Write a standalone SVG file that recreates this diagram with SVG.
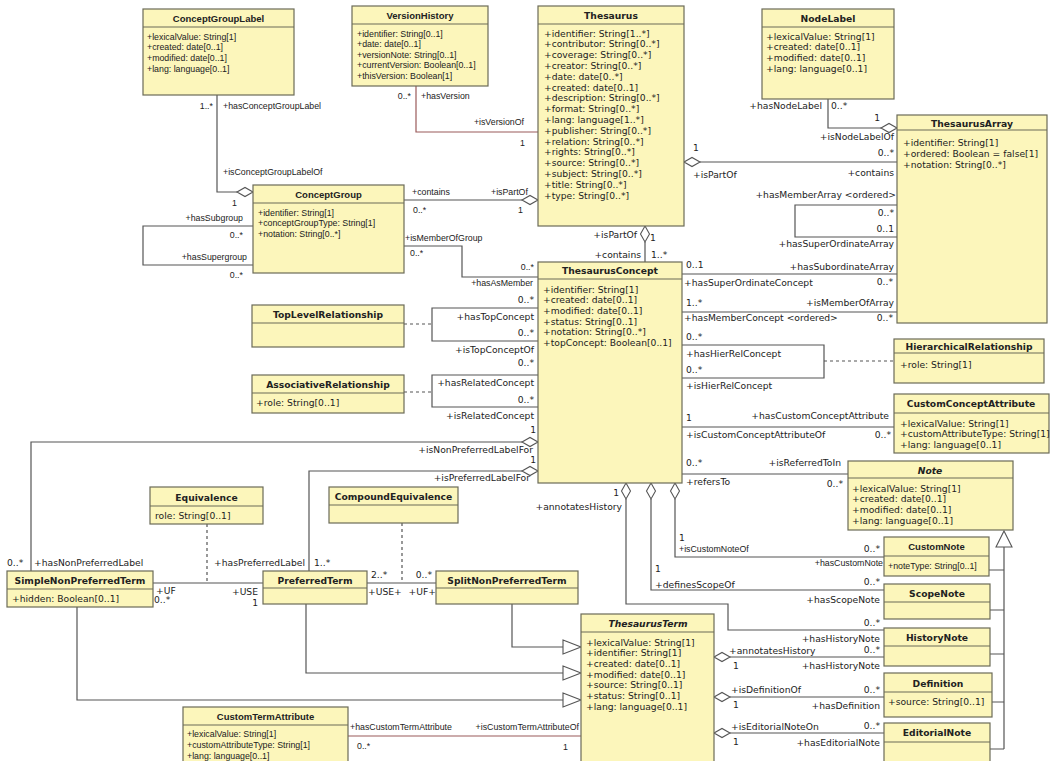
<svg xmlns="http://www.w3.org/2000/svg" width="1063" height="761" viewBox="0 0 1063 761">
<style>
.bg{fill:#ffffff}
.box{fill:#fcf6bb;stroke:#6b6b58;stroke-width:1.2}
.hl{stroke:#6b6b58;stroke-width:1.2}
.ln{fill:none;stroke:#555;stroke-width:1.2}
.br{stroke:#9a5a5a}
.dash{stroke-dasharray:3,3}
.dia{fill:#fff;stroke:#555;stroke-width:1.1}
.v{font-family:"DejaVu Sans",Verdana,sans-serif;font-size:9.2px;fill:#222}
.vb{font-family:"DejaVu Sans",Verdana,sans-serif;font-size:9.2px;font-weight:bold;fill:#222}
.t{font-family:"Liberation Sans",Arial,sans-serif;font-size:8.8px;fill:#222}
.tb{font-family:"Liberation Sans",Arial,sans-serif;font-size:9.5px;font-weight:bold;fill:#222}
.e{text-anchor:end}
.m{text-anchor:middle}
.i{font-style:italic}
</style>
<rect class="bg" x="0" y="0" width="1063" height="761"/>

<g id="connectors">
  <!-- ConceptGroupLabel - ConceptGroup -->
  <path class="ln" d="M217,95 V192 H237"/>
  <polygon class="dia" points="237,192 245,187.5 253,192 245,196.5"/>
  <text class="t e" x="213" y="109">1..*</text>
  <text class="t" x="223" y="109">+hasConceptGroupLabel</text>
  <text class="t" x="223" y="175">+isConceptGroupLabelOf</text>
  <text class="t" x="232" y="206">1</text>
  <!-- ConceptGroup self loop -->
  <path class="ln" d="M253,226 H143 V265 H253"/>
  <text class="t e" x="243" y="221">+hasSubgroup</text>
  <text class="t e" x="243" y="238">0..*</text>
  <text class="t e" x="247" y="260">+hasSupergroup</text>
  <text class="t e" x="243" y="278">0..*</text>
  <!-- VersionHistory - Thesaurus -->
  <path class="ln br" d="M416,86 V132 H538"/>
  <text class="t e" x="411" y="99">0..*</text>
  <text class="t" x="421" y="99">+hasVersion</text>
  <text class="t e" x="524" y="125">+isVersionOf</text>
  <text class="t" x="520" y="146">1</text>
  <!-- ConceptGroup - Thesaurus -->
  <path class="ln" d="M404,200 H522"/>
  <polygon class="dia" points="522,200 530,195.5 538,200 530,204.5"/>
  <text class="t" x="412" y="195">+contains</text>
  <text class="t" x="491" y="195">+isPartOf</text>
  <text class="t" x="413" y="213">0..*</text>
  <text class="t" x="518" y="213">1</text>
  <!-- ConceptGroup - ThesaurusConcept -->
  <path class="ln" d="M404,246 H462 V277 H538"/>
  <text class="t" x="405" y="241">+isMemberOfGroup</text>
  <text class="t" x="410" y="256">0..*</text>
  <text class="t e" x="534" y="270">0..*</text>
  <text class="t e" x="533" y="286">+hasAsMember</text>
  <!-- Thesaurus - ThesaurusConcept -->
  <polygon class="dia" points="645,226 649.5,234 645,242 640.5,234"/>
  <path class="ln" d="M645,242 V262"/>
  <text class="v e" x="637" y="238">+isPartOf</text>
  <text class="v" x="650" y="241">1</text>
  <text class="v e" x="641" y="258">+contains</text>
  <text class="v" x="651" y="258">1..*</text>
  <!-- Thesaurus - ThesaurusArray -->
  <polygon class="dia" points="684,162 692,157.5 700,162 692,166.5"/>
  <path class="ln" d="M700,162 H897"/>
  <text class="v" x="693" y="151">1</text>
  <text class="v" x="693" y="178">+isPartOf</text>
  <text class="v e" x="894" y="156">0..*</text>
  <text class="v e" x="894" y="176">+contains</text>
  <!-- NodeLabel - ThesaurusArray -->
  <path class="ln" d="M828,99 V128 H881"/>
  <polygon class="dia" points="881,128 889,123.5 897,128 889,132.5"/>
  <text class="v e" x="822" y="109">+hasNodeLabel</text>
  <text class="v" x="831" y="109">0..*</text>
  <text class="v e" x="880" y="121">1</text>
  <text class="v e" x="894" y="140">+isNodeLabelOf</text>
  <!-- ThesaurusArray self loop -->
  <path class="ln" d="M897,205 H795 V237 H897"/>
  <text class="v e" x="896" y="198">+hasMemberArray &lt;ordered&gt;</text>
  <text class="v e" x="894" y="216">0..*</text>
  <text class="v e" x="894" y="232">0..1</text>
  <text class="v e" x="894" y="247">+hasSuperOrdinateArray</text>
  <!-- ThesaurusConcept - ThesaurusArray (subordinate) -->
  <path class="ln" d="M682,274 H897"/>
  <text class="v" x="686" y="268">0..1</text>
  <text class="v e" x="894" y="270">+hasSubordinateArray</text>
  <text class="v" x="684" y="286">+hasSuperOrdinateConcept</text>
  <text class="v e" x="893" y="285">0..*</text>
  <!-- ThesaurusConcept - ThesaurusArray (member) -->
  <path class="ln" d="M682,312 H897"/>
  <text class="v" x="686" y="306">1..*</text>
  <text class="v e" x="894" y="306">+isMemberOfArray</text>
  <text class="v" x="684" y="321">+hasMemberConcept &lt;ordered&gt;</text>
  <text class="v e" x="893" y="321">0..*</text>
  <!-- Hierarchical loop -->
  <path class="ln" d="M682,345 H824 V378 H682"/>
  <path class="ln dash" d="M824,361 H894"/>
  <text class="v" x="686" y="340">0..*</text>
  <text class="v" x="686" y="357">+hasHierRelConcept</text>
  <text class="v" x="686" y="373">0..*</text>
  <text class="v" x="686" y="389">+isHierRelConcept</text>
  <!-- ThesaurusConcept - CustomConceptAttribute -->
  <path class="ln" d="M682,427 H894"/>
  <text class="v" x="686" y="421">1</text>
  <text class="v e" x="889" y="419">+hasCustomConceptAttribute</text>
  <text class="v" x="686" y="438">+isCustomConceptAttributeOf</text>
  <text class="v e" x="891" y="438">0..*</text>
  <!-- ThesaurusConcept - Note -->
  <path class="ln" d="M682,474 H848"/>
  <text class="v" x="686" y="466">0..*</text>
  <text class="v e" x="841" y="466">+isReferredToIn</text>
  <text class="v" x="686" y="485">+refersTo</text>
  <text class="v e" x="843" y="487">0..*</text>
  <!-- Note generalization -->
  <path class="ln" d="M1004,547 V749 M989,570 H1004 M990,610 H1004 M990,654 H1004 M992,702 H1004 M990,749 H1004"/>
  <polygon class="dia" points="1004,531 1012,547 996,547"/>
  <!-- ThesaurusConcept - CustomNote -->
  <polygon class="dia" points="675,483 679.5,491 675,499 670.5,491"/>
  <path class="ln" d="M675,499 V557 H884"/>
  <text class="v" x="679" y="541">1</text>
  <text class="t" x="679" y="552">+isCustomNoteOf</text>
  <text class="v e" x="880" y="552">0..*</text>
  <text class="t e" x="883" y="566">+hasCustomNote</text>
  <!-- ThesaurusConcept - ScopeNote -->
  <polygon class="dia" points="651,483 655.5,491 651,499 646.5,491"/>
  <path class="ln" d="M651,499 V590 H884"/>
  <text class="v" x="655" y="572">1</text>
  <text class="v" x="655" y="588">+definesScopeOf</text>
  <text class="v e" x="880" y="585">0..*</text>
  <text class="v e" x="880" y="603">+hasScopeNote</text>
  <!-- ThesaurusConcept - HistoryNote -->
  <polygon class="dia" points="626,483 630.5,491 626,499 621.5,491"/>
  <path class="ln" d="M626,499 V604 H728 V630 H884"/>
  <text class="v e" x="619" y="496">1</text>
  <text class="v e" x="622" y="510">+annotatesHistory</text>
  <text class="v e" x="880" y="626">0..*</text>
  <text class="v e" x="880" y="642">+hasHistoryNote</text>
  <!-- ThesaurusTerm - HistoryNote -->
  <polygon class="dia" points="714,657 722,652.5 730,657 722,661.5"/>
  <path class="ln" d="M730,657 H884"/>
  <text class="v" x="729" y="654">+annotatesHistory</text>
  <text class="v" x="733" y="669">1</text>
  <text class="v e" x="880" y="653">0..*</text>
  <text class="v e" x="880" y="669">+hasHistoryNote</text>
  <!-- ThesaurusTerm - Definition -->
  <polygon class="dia" points="714,697 722,692.5 730,697 722,701.5"/>
  <path class="ln" d="M730,697 H884"/>
  <text class="v" x="731" y="693">+isDefinitionOf</text>
  <text class="v" x="733" y="708">1</text>
  <text class="v e" x="880" y="693">0..*</text>
  <text class="v e" x="880" y="709">+hasDefinition</text>
  <!-- ThesaurusTerm - EditorialNote -->
  <polygon class="dia" points="714,733 722,728.5 730,733 722,737.5"/>
  <path class="ln" d="M730,733 H884"/>
  <text class="v" x="731" y="730">+isEditorialNoteOn</text>
  <text class="v" x="733" y="745">1</text>
  <text class="v e" x="880" y="729">0..*</text>
  <text class="v e" x="880" y="746">+hasEditorialNote</text>
  <!-- TopConcept loop -->
  <path class="ln" d="M538,308 H432 V341 H538"/>
  <path class="ln dash" d="M404,324 H432"/>
  <text class="v e" x="534" y="303">0..*</text>
  <text class="v e" x="534" y="320">+hasTopConcept</text>
  <text class="v e" x="534" y="336">0..*</text>
  <text class="v e" x="534" y="353">+isTopConceptOf</text>
  <!-- Related loop -->
  <path class="ln" d="M538,375 H432 V407 H538"/>
  <path class="ln dash" d="M404,392 H432"/>
  <text class="v e" x="534" y="366">0..*</text>
  <text class="v e" x="534" y="386">+hasRelatedConcept</text>
  <text class="v e" x="534" y="403">0..*</text>
  <text class="v e" x="534" y="419">+isRelatedConcept</text>
  <!-- SimpleNonPreferredTerm - ThesaurusConcept -->
  <path class="ln" d="M31,571 V442 H522"/>
  <polygon class="dia" points="522,442 530,437.5 538,442 530,446.5"/>
  <text class="v e" x="536" y="433">1</text>
  <text class="v e" x="533" y="453">+isNonPreferredLabelFor</text>
  <text class="v" x="7" y="566">0..*</text>
  <text class="v" x="34" y="566">+hasNonPreferredLabel</text>
  <!-- PreferredTerm - ThesaurusConcept -->
  <path class="ln" d="M309,571 V471 H522"/>
  <polygon class="dia" points="522,471 530,466.5 538,471 530,475.5"/>
  <text class="v e" x="536" y="463">1</text>
  <text class="v e" x="530" y="481">+isPreferredLabelFor</text>
  <text class="v e" x="305" y="566">+hasPreferredLabel</text>
  <text class="v" x="314" y="566">1..*</text>
  <!-- SimpleNonPreferredTerm - PreferredTerm -->
  <path class="ln" d="M153,583 H263"/>
  <path class="ln dash" d="M207,524 V583"/>
  <text class="v" x="156" y="594">+UF</text>
  <text class="v" x="154" y="603">0..*</text>
  <text class="v e" x="258" y="595">+USE</text>
  <text class="v e" x="258" y="606">1</text>
  <!-- PreferredTerm - SplitNonPreferredTerm -->
  <path class="ln" d="M367,583 H436"/>
  <path class="ln dash" d="M402,523 V583"/>
  <text class="v" x="371" y="578">2..*</text>
  <text class="v e" x="432" y="578">0..*</text>
  <text class="v" x="368" y="595">+USE+</text>
  <text class="v e" x="436" y="595">+UF+</text>
  <!-- Generalizations into ThesaurusTerm -->
  <path class="ln" d="M512,604 V647 H563 M306,604 V673 H563 M77,607 V700 H563"/>
  <polygon class="dia" points="563,640 581,647 563,654"/>
  <polygon class="dia" points="563,666 581,673 563,680"/>
  <polygon class="dia" points="563,693 581,700 563,707"/>
  <!-- CustomTermAttribute - ThesaurusTerm -->
  <path class="ln br" d="M348,736 H581"/>
  <text class="t" x="350" y="730">+hasCustomTermAttribute</text>
  <text class="t" x="357" y="749">0..*</text>
  <text class="t e" x="579" y="730">+isCustomTermAttributeOf</text>
  <text class="t" x="563" y="750">1</text>
</g>

<g id="ConceptGroupLabel">
  <rect class="box" x="143" y="9" width="151" height="86"/>
  <line class="hl" x1="143" y1="27" x2="294" y2="27"/>
  <text class="tb m" x="218.5" y="21.5">ConceptGroupLabel</text>
  <text class="t" x="147" y="39.5">+lexicalValue: String[1]</text>
  <text class="t" x="147" y="50">+created: date[0..1]</text>
  <text class="t" x="147" y="60.5">+modified: date[0..1]</text>
  <text class="t" x="147" y="71.5">+lang: language[0..1]</text>
</g>

<g id="VersionHistory">
  <rect class="box" x="352" y="6" width="136" height="80"/>
  <line class="hl" x1="352" y1="24" x2="488" y2="24"/>
  <text class="tb m" x="420" y="18.5">VersionHistory</text>
  <text class="t" x="357" y="36.5">+identifier: String[0..1]</text>
  <text class="t" x="357" y="47">+date: date[0..1]</text>
  <text class="t" x="357" y="57.5">+versionNote: String[0..1]</text>
  <text class="t" x="357" y="68">+currentVersion: Boolean[0..1]</text>
  <text class="t" x="357" y="78.5">+thisVersion: Boolean[1]</text>
</g>

<g id="Thesaurus">
  <rect class="box" x="538" y="6" width="146" height="220"/>
  <line class="hl" x1="538" y1="24" x2="684" y2="24"/>
  <text class="vb m" x="611" y="18.5">Thesaurus</text>
  <text class="v" x="544" y="36.5">+identifier: String[1..*]</text>
  <text class="v" x="544" y="47.3">+contributor: String[0..*]</text>
  <text class="v" x="544" y="58.1">+coverage: String[0..*]</text>
  <text class="v" x="544" y="68.9">+creator: String[0..*]</text>
  <text class="v" x="544" y="79.7">+date: date[0..*]</text>
  <text class="v" x="544" y="90.5">+created: date[0..1]</text>
  <text class="v" x="544" y="101.3">+description: String[0..*]</text>
  <text class="v" x="544" y="112.1">+format: String[0..*]</text>
  <text class="v" x="544" y="122.9">+lang: language[1..*]</text>
  <text class="v" x="544" y="133.7">+publisher: String[0..*]</text>
  <text class="v" x="544" y="144.5">+relation: String[0..*]</text>
  <text class="v" x="544" y="155.3">+rights: String[0..*]</text>
  <text class="v" x="544" y="166.1">+source: String[0..*]</text>
  <text class="v" x="544" y="176.9">+subject: String[0..*]</text>
  <text class="v" x="544" y="187.7">+title: String[0..*]</text>
  <text class="v" x="544" y="198.5">+type: String[0..*]</text>
</g>

<g id="NodeLabel">
  <rect class="box" x="762" y="9" width="132" height="90"/>
  <line class="hl" x1="762" y1="27" x2="894" y2="27"/>
  <text class="vb m" x="828" y="21.5">NodeLabel</text>
  <text class="v" x="766" y="39.5">+lexicalValue: String[1]</text>
  <text class="v" x="766" y="50.3">+created: date[0..1]</text>
  <text class="v" x="766" y="61">+modified: date[0..1]</text>
  <text class="v" x="766" y="71.8">+lang: language[0..1]</text>
</g>

<g id="ThesaurusArray">
  <rect class="box" x="897" y="115" width="150" height="208"/>
  <line class="hl" x1="897" y1="130" x2="1047" y2="130"/>
  <text class="vb m" x="972" y="126.5">ThesaurusArray</text>
  <text class="v" x="903" y="146">+identifier: String[1]</text>
  <text class="v" x="903" y="157">+ordered: Boolean = false[1]</text>
  <text class="v" x="903" y="168">+notation: String[0..*]</text>
</g>

<g id="ConceptGroup">
  <rect class="box" x="253" y="185" width="151" height="88"/>
  <line class="hl" x1="253" y1="203" x2="404" y2="203"/>
  <text class="tb m" x="328.5" y="197.5">ConceptGroup</text>
  <text class="t" x="258" y="215.5">+identifier: String[1]</text>
  <text class="t" x="258" y="226">+conceptGroupType: String[1]</text>
  <text class="t" x="258" y="236.5">+notation: String[0..*]</text>
</g>

<g id="ThesaurusConcept">
  <rect class="box" x="538" y="262" width="144" height="221"/>
  <line class="hl" x1="538" y1="279" x2="682" y2="279"/>
  <text class="vb m" x="610" y="273.5">ThesaurusConcept</text>
  <text class="v" x="543" y="292.5">+identifier: String[1]</text>
  <text class="v" x="543" y="303.2">+created: date[0..1]</text>
  <text class="v" x="543" y="313.9">+modified: date[0..1]</text>
  <text class="v" x="543" y="324.6">+status: String[0..1]</text>
  <text class="v" x="543" y="335.3">+notation: String[0..*]</text>
  <text class="v" x="543" y="346">+topConcept: Boolean[0..1]</text>
</g>

<g id="TopLevelRelationship">
  <rect class="box" x="252" y="305" width="152" height="42"/>
  <line class="hl" x1="252" y1="323" x2="404" y2="323"/>
  <text class="vb m" x="328" y="317.5">TopLevelRelationship</text>
</g>

<g id="AssociativeRelationship">
  <rect class="box" x="252" y="375" width="152" height="38"/>
  <line class="hl" x1="252" y1="393" x2="404" y2="393"/>
  <text class="vb m" x="328" y="387.5">AssociativeRelationship</text>
  <text class="v" x="256" y="406">+role: String[0..1]</text>
</g>

<g id="HierarchicalRelationship">
  <rect class="box" x="894" y="339" width="150" height="44"/>
  <line class="hl" x1="894" y1="353" x2="1044" y2="353"/>
  <text class="vb m" x="969" y="349.5">HierarchicalRelationship</text>
  <text class="v" x="900" y="368">+role: String[1]</text>
</g>

<g id="CustomConceptAttribute">
  <rect class="box" x="894" y="394" width="155" height="59"/>
  <line class="hl" x1="894" y1="413" x2="1049" y2="413"/>
  <text class="vb m" x="971" y="406.5">CustomConceptAttribute</text>
  <text class="v" x="900" y="426.5">+lexicalValue: String[1]</text>
  <text class="v" x="900" y="437">+customAttributeType: String[1]</text>
  <text class="v" x="900" y="447.5">+lang: language[0..1]</text>
</g>

<g id="Note">
  <rect class="box" x="848" y="461" width="165" height="69"/>
  <line class="hl" x1="848" y1="478" x2="1013" y2="478"/>
  <text class="vb m i" x="930" y="473.5">Note</text>
  <text class="v" x="852" y="491.5">+lexicalValue: String[1]</text>
  <text class="v" x="852" y="502.3">+created: date[0..1]</text>
  <text class="v" x="852" y="513">+modified: date[0..1]</text>
  <text class="v" x="852" y="523.8">+lang: language[0..1]</text>
</g>

<g id="CustomNote">
  <rect class="box" x="884" y="537" width="105" height="39"/>
  <line class="hl" x1="884" y1="556" x2="989" y2="556"/>
  <text class="tb m" x="936.5" y="549.5">CustomNote</text>
  <text class="t" x="888" y="568.5">+noteType: String[0..1]</text>
</g>

<g id="ScopeNote">
  <rect class="box" x="884" y="584" width="106" height="35"/>
  <line class="hl" x1="884" y1="602" x2="990" y2="602"/>
  <text class="vb m" x="937" y="596.5">ScopeNote</text>
</g>

<g id="HistoryNote">
  <rect class="box" x="884" y="628" width="106" height="38"/>
  <line class="hl" x1="884" y1="646" x2="990" y2="646"/>
  <text class="vb m" x="937" y="640.5">HistoryNote</text>
</g>

<g id="Definition">
  <rect class="box" x="884" y="673" width="108" height="44"/>
  <line class="hl" x1="884" y1="692" x2="992" y2="692"/>
  <text class="vb m" x="938" y="686.5">Definition</text>
  <text class="v" x="888" y="704.5">+source: String[0..1]</text>
</g>

<g id="EditorialNote">
  <rect class="box" x="884" y="723" width="106" height="48"/>
  <line class="hl" x1="884" y1="742" x2="990" y2="742"/>
  <text class="vb m" x="937" y="735.5">EditorialNote</text>
</g>

<g id="ThesaurusTerm">
  <rect class="box" x="581" y="614" width="133" height="156"/>
  <line class="hl" x1="581" y1="632" x2="714" y2="632"/>
  <text class="vb m i" x="648" y="626.5">ThesaurusTerm</text>
  <text class="v" x="586" y="645.5">+lexicalValue: String[1]</text>
  <text class="v" x="586" y="656.2">+identifier: String[1]</text>
  <text class="v" x="586" y="666.9">+created: date[0..1]</text>
  <text class="v" x="586" y="677.6">+modified: date[0..1]</text>
  <text class="v" x="586" y="688.3">+source: String[0..1]</text>
  <text class="v" x="586" y="699">+status: String[0..1]</text>
  <text class="v" x="586" y="709.7">+lang: language[0..1]</text>
</g>

<g id="SimpleNonPreferredTerm">
  <rect class="box" x="7" y="571" width="146" height="36"/>
  <line class="hl" x1="7" y1="589" x2="153" y2="589"/>
  <text class="vb m" x="80" y="583.5">SimpleNonPreferredTerm</text>
  <text class="v" x="12" y="601.5">+hidden: Boolean[0..1]</text>
</g>

<g id="PreferredTerm">
  <rect class="box" x="263" y="571" width="104" height="33"/>
  <line class="hl" x1="263" y1="588" x2="367" y2="588"/>
  <text class="vb m" x="315" y="583.5">PreferredTerm</text>
</g>

<g id="SplitNonPreferredTerm">
  <rect class="box" x="436" y="571" width="142" height="33"/>
  <line class="hl" x1="436" y1="588" x2="578" y2="588"/>
  <text class="vb m" x="507" y="583.5">SplitNonPreferredTerm</text>
</g>

<g id="Equivalence">
  <rect class="box" x="150" y="487" width="113" height="37"/>
  <line class="hl" x1="150" y1="506" x2="263" y2="506"/>
  <text class="vb m" x="206.5" y="500.5">Equivalence</text>
  <text class="v" x="155" y="519">role: String[0..1]</text>
</g>

<g id="CompoundEquivalence">
  <rect class="box" x="329" y="487" width="129" height="36"/>
  <line class="hl" x1="329" y1="505" x2="458" y2="505"/>
  <text class="vb m" x="393.5" y="500">CompoundEquivalence</text>
</g>

<g id="CustomTermAttribute">
  <rect class="box" x="183" y="707" width="165" height="64"/>
  <line class="hl" x1="183" y1="725" x2="348" y2="725"/>
  <text class="tb m" x="265.5" y="719.5">CustomTermAttribute</text>
  <text class="t" x="187" y="737">+lexicalValue: String[1]</text>
  <text class="t" x="187" y="748">+customAttributeType: String[1]</text>
  <text class="t" x="187" y="759">+lang: language[0..1]</text>
</g>
</svg>
